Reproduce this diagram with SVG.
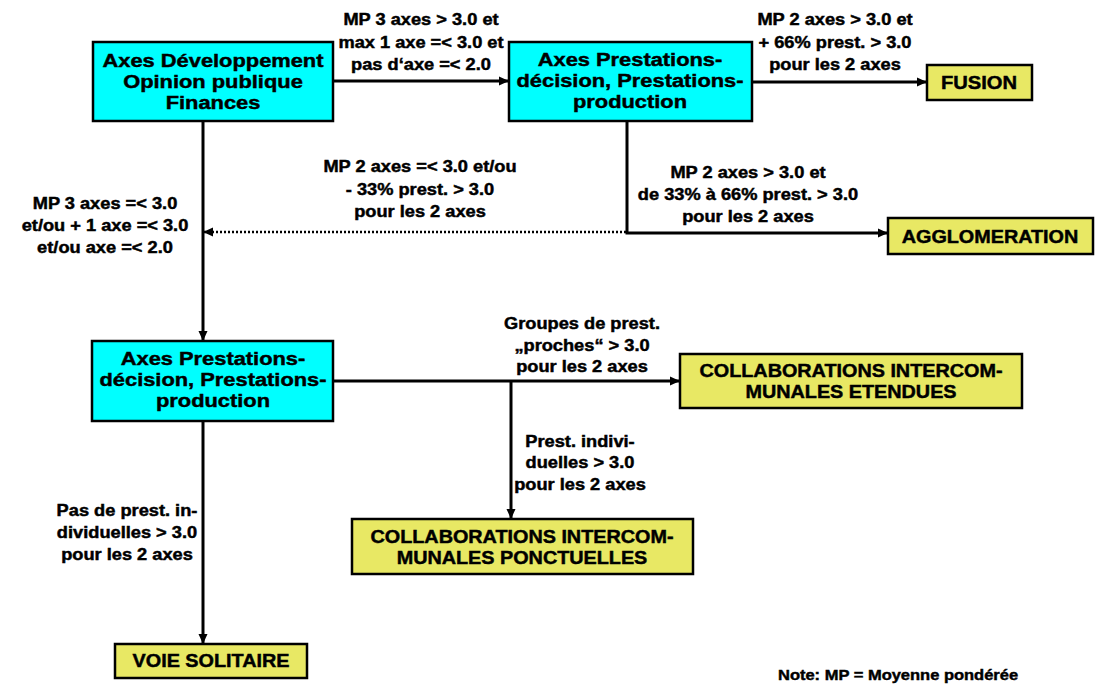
<svg xmlns="http://www.w3.org/2000/svg" width="1096" height="684" viewBox="0 0 1096 684">
<style>
text{font-family:"Liberation Sans",Arial,sans-serif;font-weight:bold;fill:#000;stroke:#000;stroke-width:0.45;text-anchor:middle}
.bx{font-size:19px}
.lb{font-size:16px}
.yl{font-size:18px}
.nt{font-size:15px;text-anchor:start}
.cy{fill:#00FFFF;stroke:#000;stroke-width:2.5}
.ye{fill:#E8E864;stroke:#000;stroke-width:2.5}
.ln{fill:none;stroke:#000;stroke-width:3}
.dt{fill:none;stroke:#000;stroke-width:2.5;stroke-dasharray:2 2}
</style>
<defs>
<marker id="ah" markerUnits="userSpaceOnUse" markerWidth="10" markerHeight="10" refX="9" refY="5" orient="auto">
<path d="M0,0.5 L10,5 L0,9.5 Z" fill="#000"/>
</marker>
</defs>
<rect width="1096" height="684" fill="#fff"/>
<g id="connectors">
<path class="ln" d="M333,81 H508" marker-end="url(#ah)"/>
<path class="ln" d="M752,82 H926" marker-end="url(#ah)"/>
<path class="ln" d="M627,121 V233 H887" marker-end="url(#ah)"/>
<path class="dt" d="M626,232 H204" marker-end="url(#ah)"/>
<path class="ln" d="M203,121 V340" marker-end="url(#ah)"/>
<path class="ln" d="M333,381 H679" marker-end="url(#ah)"/>
<path class="ln" d="M511,381 V518" marker-end="url(#ah)"/>
<path class="ln" d="M203,421 V643" marker-end="url(#ah)"/>
<g id="labels">
<text class="lb" transform="translate(421,25) scale(1.14,1)">MP 3 axes &gt; 3.0 et</text>
<text class="lb" transform="translate(421,48) scale(1.14,1)">max 1 axe =&lt; 3.0 et</text>
<text class="lb" transform="translate(421,70) scale(1.14,1)">pas d‘axe =&lt; 2.0</text>
<text class="lb" transform="translate(835,25) scale(1.14,1)">MP 2 axes &gt; 3.0 et</text>
<text class="lb" transform="translate(835,48) scale(1.14,1)">+ 66% prest. &gt; 3.0</text>
<text class="lb" transform="translate(835,70) scale(1.14,1)">pour les 2 axes</text>
<text class="lb" transform="translate(420,172) scale(1.14,1)">MP 2 axes =&lt; 3.0 et/ou</text>
<text class="lb" transform="translate(420,195) scale(1.14,1)">- 33% prest. &gt; 3.0</text>
<text class="lb" transform="translate(420,217) scale(1.14,1)">pour les 2 axes</text>
<text class="lb" transform="translate(748,178) scale(1.14,1)">MP 2 axes &gt; 3.0 et</text>
<text class="lb" transform="translate(748,200) scale(1.14,1)">de 33% à 66% prest. &gt; 3.0</text>
<text class="lb" transform="translate(748,222) scale(1.14,1)">pour les 2 axes</text>
<text class="lb" transform="translate(105,209) scale(1.14,1)">MP 3 axes =&lt; 3.0</text>
<text class="lb" transform="translate(105,231) scale(1.14,1)">et/ou + 1 axe =&lt; 3.0</text>
<text class="lb" transform="translate(105,253) scale(1.14,1)">et/ou axe =&lt; 2.0</text>
<text class="lb" transform="translate(582,329) scale(1.14,1)">Groupes de prest.</text>
<text class="lb" transform="translate(582,351) scale(1.14,1)">„proches“ &gt; 3.0</text>
<text class="lb" transform="translate(582,372) scale(1.14,1)">pour les 2 axes</text>
<text class="lb" transform="translate(580,447) scale(1.14,1)">Prest. indivi-</text>
<text class="lb" transform="translate(580,468) scale(1.14,1)">duelles &gt; 3.0</text>
<text class="lb" transform="translate(580,490) scale(1.14,1)">pour les 2 axes</text>
<text class="lb" transform="translate(127,516) scale(1.14,1)">Pas de prest. in-</text>
<text class="lb" transform="translate(127,538) scale(1.14,1)">dividuelles &gt; 3.0</text>
<text class="lb" transform="translate(127,560) scale(1.14,1)">pour les 2 axes</text>
</g>
</g>
<g id="box1">
<rect class="cy" x="93" y="42" width="240" height="79"/>
<text class="bx" transform="translate(213,67) scale(1.15,1)">Axes Développement</text>
<text class="bx" transform="translate(213,88) scale(1.15,1)">Opinion publique</text>
<text class="bx" transform="translate(213,109) scale(1.15,1)">Finances</text>
</g>
<g id="box2">
<rect class="cy" x="509" y="42" width="243" height="79"/>
<text class="bx" transform="translate(630,66) scale(1.15,1)">Axes Prestations-</text>
<text class="bx" transform="translate(630,87) scale(1.15,1)">décision, Prestations-</text>
<text class="bx" transform="translate(630,108) scale(1.15,1)">production</text>
</g>
<g id="box3">
<rect class="cy" x="92" y="341" width="241" height="80"/>
<text class="bx" transform="translate(213,365) scale(1.15,1)">Axes Prestations-</text>
<text class="bx" transform="translate(213,386) scale(1.15,1)">décision, Prestations-</text>
<text class="bx" transform="translate(213,407) scale(1.15,1)">production</text>
</g>
<g id="fusion">
<rect class="ye" x="927" y="65" width="105" height="35"/>
<text class="yl" transform="translate(979,89) scale(1.12,1)">FUSION</text>
</g>
<g id="agglomeration">
<rect class="ye" x="888" y="218" width="205" height="36"/>
<text class="yl" transform="translate(990,243) scale(1.1,1)">AGGLOMERATION</text>
</g>
<g id="collab-etendues">
<rect class="ye" x="680" y="354" width="342" height="54"/>
<text class="yl" transform="translate(851,377) scale(1.1,1)">COLLABORATIONS INTERCOM-</text>
<text class="yl" transform="translate(851,398) scale(1.1,1)">MUNALES ETENDUES</text>
</g>
<g id="collab-ponctuelles">
<rect class="ye" x="352" y="519" width="341" height="55"/>
<text class="yl" transform="translate(522,543) scale(1.1,1)">COLLABORATIONS INTERCOM-</text>
<text class="yl" transform="translate(522,564) scale(1.1,1)">MUNALES PONCTUELLES</text>
</g>
<g id="voie-solitaire">
<rect class="ye" x="115" y="644" width="192" height="34"/>
<text class="yl" transform="translate(211,667) scale(1.1,1)">VOIE SOLITAIRE</text>
</g>
<g id="note">
<text class="nt" transform="translate(778,680) scale(1.1,1)">Note: MP = Moyenne pondérée</text>
</g>
</svg>
